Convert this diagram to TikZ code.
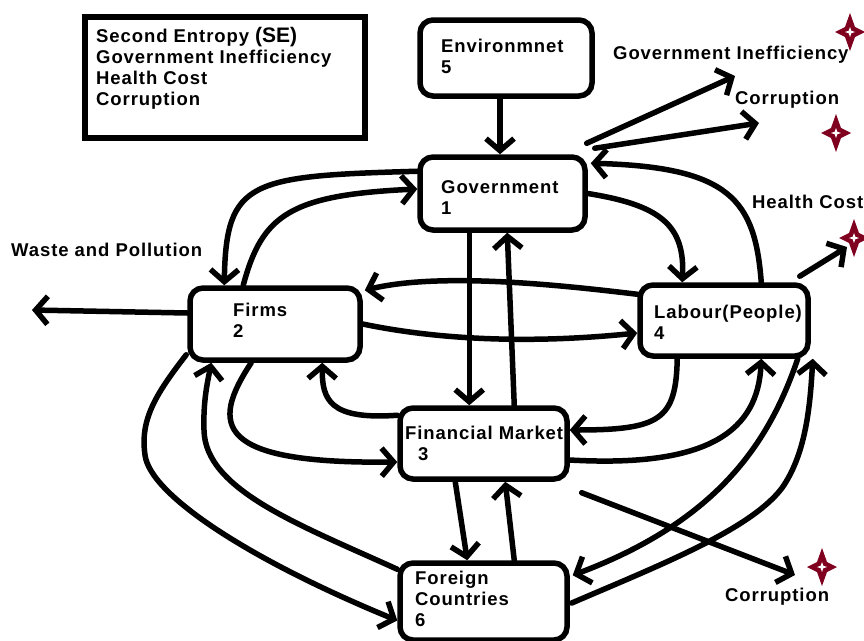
\documentclass[tikz,border=0pt]{standalone}
\usepackage{fontspec}
\setmainfont{Liberation Sans}
\newfontfamily\dfont{Liberation Sans}[LetterSpace=5]
\newfontfamily\sefont{Liberation Sans}
\usetikzlibrary{arrows.meta,calc}
\definecolor{starred}{RGB}{128,0,32}
\begin{document}
\begin{tikzpicture}[x=1pt,y=-1pt,
  box/.style={draw, line width=5.5pt, rounded corners=13pt, inner sep=0pt},
  txt/.style={inner sep=0pt, font={\dfont\bfseries\fontsize{18.5}{21}\selectfont}, align=left, anchor=west},
  arr/.style={line width=5.5pt, line cap=round, -{Straight Barb[length=12pt,width=28pt]}},
  redstar/.pic={
    \fill[starred] (0,-19) -- (5,-5) -- (15,0) -- (5,5) -- (0,19) -- (-5,5) -- (-15,0) -- (-5,-5) -- cycle;
    \fill[white] (0,-5) -- (1.3,-1.3) -- (5,0) -- (1.3,1.3) -- (0,5) -- (-1.3,1.3) -- (-5,0) -- (-1.3,-1.3) -- cycle;
  }
]
\useasboundingbox[fill=white] (0,0) rectangle (864,640);

% boxes
\node[draw, line width=5.5pt, minimum width=280pt, minimum height=121pt, inner sep=0pt] (legbox) at (225,77.5) {};
\node[box, minimum width=172pt, minimum height=76pt] (env) at (506,58) {};
\node[box, minimum width=165pt, minimum height=73pt] (gov) at (502.5,193.5) {};
\node[box, minimum width=170pt, minimum height=72pt] (firms) at (275,324) {};
\node[box, minimum width=168pt, minimum height=71pt] (lab) at (724,320.5) {};
\node[box, minimum width=167pt, minimum height=71pt] (fm) at (483.5,443.5) {};
\node[box, minimum width=167pt, minimum height=77pt] (fc) at (483.5,601.5) {};

% box texts
\node[txt, anchor=north west] (legt) at (96,27) {Second Entropy {\sefont\bfseries\fontsize{21}{21}\selectfont(SE)}\\Government Inefficiency\\Health Cost\\Corruption};
\node[txt] (envt) at (441,56.5) {Environmnet\\5};
\node[txt] (govt) at (441,197.5) {Government\\1};
\node[txt] (firmst) at (233,320.5) {Firms\\2};
\node[txt] (labt) at (654,322) {Labour(People)\\4};
\node[txt] (fmt) at (405,443.5) {Financial Market\\\hspace*{13pt}3};
\node[txt] (fct) at (415,599) {Foreign\\Countries\\6};

% free labels
\node[txt] (gi) at (613,55) {Government Inefficiency};
\node[txt] (cor1) at (735,100) {Corruption};
\node[txt] (hc) at (752,202) {Health Cost};
\node[txt] (wp) at (11,250) {Waste and Pollution};
\node[txt] (cor2) at (725,597) {Corruption};

% stars
\pic at (850,32) {redstar};
\pic at (836,133) {redstar};
\pic at (854,238) {redstar};
\pic at (822,567) {redstar};

% free ends
\coordinate (giend) at (735,76);
\coordinate (c1end) at (759,123);
\coordinate (hcend) at (847,247);
\coordinate (wpend) at (32,310);
\coordinate (c2end) at (795,575);

% connectors
\draw[arr] ($(env.south)+(-6,0)$) -- ($(gov.north)+(-2.5,0)$);
\draw[arr] ($(gov.north east)+(-1,-11)$) -- (giend);
\draw[arr] ($(gov.north east)+(7,-6)$) -- (c1end);
\draw[arr] ($(lab.north west)+(124,0)$) .. controls (755,200) and (730,167) .. ($(gov.north east)+(3,9)$);
\draw[arr] (gov.east) .. controls (660,205) and (685,225) .. ($(lab.north west)+(45,0)$);
\draw[arr] ($(lab.north east)+(-11,-6)$) -- (hcend);
\draw[arr] ($(gov.north west)+(0,17)$) .. controls (250,176) and (226,180) .. ($(firms.north west)+(37,0)$);
\draw[arr] ($(firms.north west)+(56,0)$) .. controls (262,215) and (290,195) .. ($(gov.west)+(0,-4.5)$);
\draw[arr] ($(lab.north west)+(0,12)$) .. controls (560,285) and (440,272) .. ($(firms.north east)+(2,5)$);
\draw[arr] (firms.east) .. controls (430,338) and (520,345) .. ($(lab.west)+(0,12.5)$);
\draw[arr] ($(gov.south west)+(52,0)$) -- ($(fm.north west)+(72,0)$);
\draw[arr] ($(fm.north west)+(117,0)$) -- ($(gov.south west)+(90,0)$);
\draw[arr] ($(fm.north west)+(0,10)$) .. controls (330,420) and (322,400) .. ($(firms.south west)+(135,0)$);
\draw[arr] ($(firms.south west)+(64,0)$) .. controls (210,425) and (215,464) .. ($(fm.west)+(0,18.5)$);
\draw[arr] ($(firms.south west)+(-1,-8)$) .. controls (155,395) and (140,420) .. (145,455) .. controls (150,495) and (250,560) .. ($(fc.west)+(0,19)$);
\draw[arr] ($(fc.north west)+(0,9)$) .. controls (300,525) and (205,490) .. (204,430) .. controls (203,400) and (208,380) .. ($(firms.south west)+(24,0)$);
\draw[arr] ($(fm.south west)+(58,0)$) -- ($(fc.north west)+(70,0)$);
\draw[arr] ($(fc.north west)+(117,0)$) -- ($(fm.south west)+(108,0)$);
\draw[arr] ($(lab.south west)+(40,0)$) .. controls (676,420) and (660,430) .. ($(fm.east)+(0,-13.5)$);
\draw[arr] ($(fm.east)+(0,16.5)$) .. controls (710,468) and (758,430) .. ($(lab.south west)+(124,0)$);
\draw[arr] ($(lab.south east)+(-13,0)$) .. controls (770,440) and (720,520) .. ($(fc.north east)+(3,15)$);
\draw[arr] ($(fc.east)+(2,1.5)$) .. controls (660,565) and (750,530) .. (782,488) .. controls (805,455) and (810,410) .. ($(lab.south east)+(2,0)$);
\draw[arr] ($(fm.south east)+(12,11)$) -- (c2end);
\draw[arr] ($(firms.west)+(0,-11)$) -- (wpend);
\end{tikzpicture}
\end{document}
